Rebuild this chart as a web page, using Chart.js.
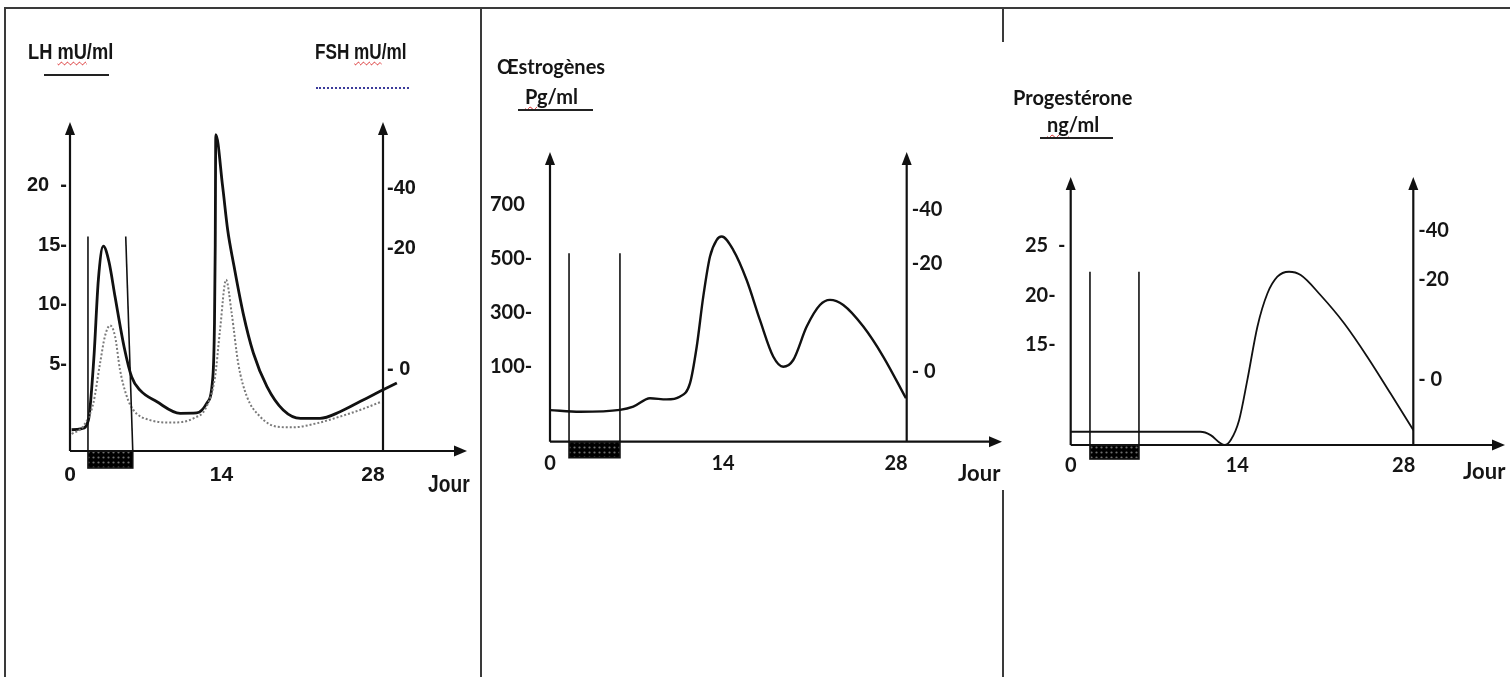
<!DOCTYPE html>
<html><head><meta charset="utf-8">
<script src="https://cdn.jsdelivr.net/npm/chart.js@4.4.1/dist/chart.umd.min.js"></script>
<style>
html,body{margin:0;padding:0;background:#fff}
body{position:relative;width:1510px;height:677px;overflow:hidden}
canvas{position:absolute;top:0}
.rule{position:absolute;background:#3a3a3a}
.t{position:absolute;white-space:nowrap;line-height:1;font-weight:bold;color:#151515}
.n{font-family:'Liberation Sans Narrow','Liberation Sans',sans-serif;font-size:22px;transform-origin:0 0}
.l{font-family:Lato,'Open Sans',sans-serif;font-size:20px}
.sq{text-decoration:underline wavy #d82828;text-decoration-thickness:1px;text-underline-offset:2px}
.ul{position:absolute;height:2px;background:#222}
</style></head><body>
<div class="rule" style="left:4px;top:7px;width:1506px;height:2px"></div>
<div class="rule" style="left:4px;top:7px;width:2px;height:670px"></div>
<div class="rule" style="left:480px;top:7px;width:2px;height:670px"></div>
<div class="rule" style="left:1002px;top:7px;width:2px;height:35px"></div>
<div class="rule" style="left:1002px;top:490px;width:2px;height:187px"></div>

<canvas id="c1" width="474" height="677" style="left:6px"></canvas>
<canvas id="c2" width="520" height="677" style="left:482px"></canvas>
<canvas id="c3" width="506" height="677" style="left:1004px"></canvas>

<div class="t n" style="left:28px;top:41px;transform:scaleX(0.83)">LH <span class="sq">mU</span>/ml</div>
<div class="ul" style="left:44px;top:74px;width:65px"></div>
<div class="t n" style="left:315px;top:41px;transform:scaleX(0.78)">FSH <span class="sq">mU</span>/ml</div>
<div style="position:absolute;left:316px;top:87px;width:93px;border-top:2px dotted #3b3b9a"></div>
<div class="t n" style="left:428px;top:472px;font-size:24px;transform:scaleX(0.8)">Jour</div>

<div class="t l" style="left:497px;top:56px">Œstrogènes</div>
<div class="t l" style="left:525px;top:86px"><span class="sq">Pg</span>/ml</div>
<div class="ul" style="left:518px;top:109px;width:75px"></div>
<div class="t l" style="left:958px;top:462px;font-size:22px">Jour</div>

<div class="t l" style="left:1013px;top:87px">Progestérone</div>
<div class="t l" style="left:1047px;top:114px"><span class="sq">ng</span>/ml</div>
<div class="ul" style="left:1040px;top:137px;width:73px"></div>
<div class="t l" style="left:1463px;top:460px;font-size:22px">Jour</div>

<script>
// ---------- shared ----------
const dayTicks  = [0, 14, 28];
const dayLabels = ['0', '14', '28'];

// ---------- panel 1 : LH (solid) and FSH (dotted) ----------
const lhTickValues = [5, 10, 15, 20];
const lhTickLabels = ['5-', '10-', '15-', '20  -'];
const fshTickLabels = ['- 0', '-20', '-40'];
const fshTickAt     = [4.6, 14.7, 19.75];          // where the FSH marks sit on the LH scale
const lhDays   = [0.15, 1.1, 1.7, 2.2, 2.62, 3.08, 3.6, 4.16, 5.0, 5.7, 6.47, 8.0, 10.17, 11.7, 12.63, 13.2, 13.35, 13.42, 13.47, 14.1, 14.57, 15.1, 16.0, 16.94, 18.2, 19.7, 21.3, 23.1, 24.95, 26.8, 28.65, 30.2];
const lhValues = [-0.4, -0.3, 0.4, 5.5, 12.1, 14.9, 13.6, 10.7, 6.5, 4.0, 2.9, 1.95, 0.97, 1.0, 1.8, 4.0, 8.5, 15, 24.2, 19.9, 16.25, 13.5, 9.3, 6.0, 3.2, 1.25, 0.55, 0.55, 1.1, 1.95, 2.8, 3.5];
const fshDays   = [0.16, 1.23, 2.15, 2.77, 3.23, 3.7, 4.16, 4.62, 5.24, 5.85, 7.4, 9.5, 11.4, 12.6, 13.4, 13.86, 14.42, 14.94, 15.55, 16.33, 17.56, 19.1, 20.6, 22.8, 24.95, 26.8, 28.8];
const fshValues = [-0.75, -0.1, 1.8, 5.1, 7.4, 8.3, 7.4, 4.6, 2.4, 1.25, 0.4, 0.2, 0.55, 1.5, 4.0, 7.9, 12.1, 9.3, 5.1, 2.4, 0.7, -0.14, -0.2, 0.14, 0.7, 1.25, 1.95];
const p1MensesDays    = [1.66, 5.8];
const p1MensesTopDays = [1.66, 5.15];
const p1MensesTop     = 15.7;

// ---------- panel 2 : oestrogens ----------
const oeTickValues = [100, 300, 500, 700];
const oeTickLabels = ['100-', '300-', '500-', '700'];
const oeRightLabels = ['- 0', '-20', '-40'];
const oeRightAt     = [81.6, 483.9, 681.6];
const oeDays   = [0, 2.43, 5.66, 6.74, 8.09, 9.44, 10.5, 11.33, 11.87, 12.4, 12.94, 13.48, 13.89, 14.83, 15.91, 16.99, 18.07, 18.87, 19.68, 20.77, 21.84, 22.65, 23.73, 25.35, 26.97, 28.8];
const oeValues = [-61, -67, -60, -48, -17, -21, -11, 39, 174, 360, 508, 570, 583, 533, 422, 273, 137, 100, 125, 249, 329, 348, 329, 249, 137, -17];
const p2MensesDays = [1.54, 5.66];
const p2MensesTop  = 521;

// ---------- panel 3 : progesterone ----------
const prTickValues = [15, 20, 25];
const prTickLabels = ['15-', '20-', '25  -'];
const prRightLabels = ['- 0', '-20', '-40'];
const prRightAt     = [11.5, 21.6, 26.6];
const prDays   = [0, 10.9, 11.77, 12.6, 12.95, 13.46, 14.16, 14.86, 15.7, 16.54, 17.38, 18.36, 19.34, 21.0, 22.99, 24.95, 26.9, 28.82];
const prValues = [6.24, 6.24, 5.9, 5.07, 4.9, 5.4, 7.4, 11.5, 16.85, 20.2, 21.9, 22.4, 22.07, 20.05, 17.2, 13.8, 10.1, 6.4];
const p3MensesDays = [1.62, 5.74];
const p3MensesTop  = 22.4;

// ---------- drawing helpers ----------
function arrow(ctx, x1, y1, x2, y2, len, half) {
  ctx.beginPath(); ctx.moveTo(x1, y1);
  const ang = Math.atan2(y2 - y1, x2 - x1);
  const bx = x2 - Math.cos(ang) * len, by = y2 - Math.sin(ang) * len;
  ctx.lineTo(bx, by); ctx.stroke();
  ctx.beginPath(); ctx.moveTo(x2, y2);
  ctx.lineTo(bx + Math.sin(ang) * half, by - Math.cos(ang) * half);
  ctx.lineTo(bx - Math.sin(ang) * half, by + Math.cos(ang) * half);
  ctx.closePath(); ctx.fill();
}
function dotPattern(ctx) {
  const c = document.createElement('canvas'); c.width = 5; c.height = 5;
  const g = c.getContext('2d');
  g.fillStyle = '#000'; g.fillRect(0, 0, 5, 5);
  g.fillStyle = '#6e6e6e'; g.beginPath(); g.arc(2.5, 2.5, 1.1, 0, Math.PI * 2); g.fill();
  return ctx.createPattern(c, 'repeat');
}

const schemaPlugin = {
  id: 'schema',
  afterDatasetsDraw(chart) {
    const o = chart.options.plugins.schema;
    const {ctx, chartArea: a, scales: {x, y}} = chart;
    ctx.save();
    ctx.strokeStyle = '#111'; ctx.fillStyle = '#111';
    // menstruation marks
    ctx.lineWidth = 1.6;
    o.mensesDays.forEach((d, i) => {
      const top = o.mensesTopDays ? o.mensesTopDays[i] : d;
      ctx.beginPath();
      ctx.moveTo(x.getPixelForValue(d), a.bottom);
      ctx.lineTo(x.getPixelForValue(top), y.getPixelForValue(o.mensesTop));
      ctx.stroke();
    });
    const x0 = x.getPixelForValue(o.mensesDays[0]), x1 = x.getPixelForValue(o.mensesDays[1]);
    ctx.fillStyle = dotPattern(ctx);
    ctx.fillRect(x0, a.bottom, x1 - x0, o.blockH);
    ctx.strokeRect(x0, a.bottom, x1 - x0, o.blockH);
    ctx.fillStyle = '#111';
    // axes with arrows
    ctx.lineWidth = 2.2;
    arrow(ctx, a.left, a.bottom, a.left, a.top, 13, 5);
    arrow(ctx, a.right, a.bottom, a.right, a.top, 13, 5);
    arrow(ctx, a.left, a.bottom, o.xTip, a.bottom, 13, 5.5);
    ctx.restore();
  }
};

function makePanel(p) {
  const cv = document.getElementById(p.id);
  const W = cv.width, H = cv.height, A = p.area;
  const y1W = 50, xH = 60;
  const tickFont = p.font;
  const padL = p.labelStart || 0;
  const common = {grid: {display: false, drawTicks: false}, border: {display: false}};
  new Chart(cv, {
    type: 'line',
    data: {datasets: p.series.map(s => ({
      data: s.days.map((d, i) => ({x: d, y: s.values[i]})),
      borderColor: s.color, borderWidth: s.width, borderDash: s.dash || [],
      pointRadius: 0, cubicInterpolationMode: 'monotone', fill: false, clip: false
    }))},
    options: {
      responsive: false, animation: false, devicePixelRatio: 1, events: [],
      layout: {padding: {left: padL, top: A.top, right: W - A.right - y1W, bottom: H - A.bottom - xH}},
      scales: {
        x: Object.assign({type: 'linear', min: 0, max: p.xMax,
          afterBuildTicks: s => { s.ticks = dayTicks.map(v => ({value: v})); },
          afterFit: s => { s.height = xH; },
          ticks: {autoSkip: false, maxRotation: 0, padding: p.xPad, font: p.xFont || tickFont, color: '#151515',
                  callback: (v, i) => dayLabels[i]}}, common),
        y: Object.assign({type: 'linear', position: 'left', min: p.yMin, max: p.yMax,
          afterBuildTicks: s => { s.ticks = p.yTicks.map(v => ({value: v})); },
          afterFit: s => { s.width = A.left - padL; },
          ticks: {autoSkip: false, padding: p.yPad, crossAlign: p.yAlign, font: tickFont, color: '#151515',
                  callback: (v, i) => p.yLabels[i]}}, common),
        y1: Object.assign({type: 'linear', position: 'right', min: p.yMin, max: p.yMax,
          afterBuildTicks: s => { s.ticks = p.rAt.map(v => ({value: v})); },
          afterFit: s => { s.width = y1W; },
          ticks: {autoSkip: false, padding: p.rPad, font: tickFont, color: '#151515',
                  callback: (v, i) => p.rLabels[i]}}, common)
      },
      plugins: {legend: {display: false}, tooltip: {enabled: false},
        schema: {mensesDays: p.mensesDays, mensesTopDays: p.mensesTopDays, mensesTop: p.mensesTop,
                 blockH: p.blockH, xTip: p.xTip}}
    },
    plugins: [schemaPlugin]
  });
}

const sansB = {family: "'Liberation Sans',sans-serif", weight: 'bold', size: 20};
const lato = {family: "Lato,'Open Sans',sans-serif", weight: 'bold', size: 20};

makePanel({id: 'c1', area: {left: 64, right: 377, top: 122, bottom: 451},
  xMax: 28.92, yMin: -2.17, yMax: 25.25, font: sansB, xFont: {family: "'Liberation Sans',sans-serif", weight: 'bold', size: 21},
  yTicks: lhTickValues, yLabels: lhTickLabels, yPad: 3, yAlign: 'near',
  rAt: fshTickAt, rLabels: fshTickLabels, rPad: 4, xPad: 12,
  series: [
    {days: fshDays, values: fshValues, color: '#7a7a7a', width: 2, dash: [2, 2]},
    {days: lhDays, values: lhValues, color: '#111', width: 2.8}
  ],
  mensesDays: p1MensesDays, mensesTopDays: p1MensesTopDays, mensesTop: p1MensesTop, blockH: 17, xTip: 461});

makePanel({id: 'c2', area: {left: 68, right: 424.7, top: 152, bottom: 441.7}, labelStart: 8,
  xMax: 28.86, yMin: -178.1, yMax: 896.8, font: lato,
  yTicks: oeTickValues, yLabels: oeTickLabels, yPad: 15, yAlign: 'far',
  rAt: oeRightAt, rLabels: oeRightLabels, rPad: 5, xPad: 10,
  series: [{days: oeDays, values: oeValues, color: '#111', width: 2.4}],
  mensesDays: p2MensesDays, mensesTop: p2MensesTop, blockH: 16, xTip: 520});

makePanel({id: 'c3', area: {left: 66.7, right: 409.3, top: 177, bottom: 445}, labelStart: 21,
  xMax: 28.81, yMin: 4.9, yMax: 31.97, font: lato,
  yTicks: prTickValues, yLabels: prTickLabels, yPad: 9, yAlign: 'far',
  rAt: prRightAt, rLabels: prRightLabels, rPad: 5, xPad: 9,
  series: [{days: prDays, values: prValues, color: '#111', width: 1.8}],
  mensesDays: p3MensesDays, mensesTop: p3MensesTop, blockH: 14, xTip: 501});
</script>
</body></html>
